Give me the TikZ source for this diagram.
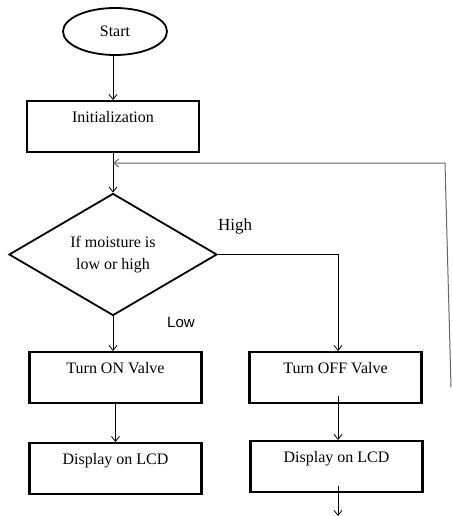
\documentclass[tikz,border=0pt]{standalone}
\usepackage{fontspec}
\setmainfont{Liberation Serif}
\newfontfamily\lsans{Liberation Sans}
\usetikzlibrary{shapes.geometric,arrows.meta}
\begin{document}
\begin{tikzpicture}[x=1pt,y=-1pt,
  every node/.style={font=\fontsize{16}{22}\selectfont},
  procbox/.style={draw,line width=2.2pt,rectangle,minimum width=172pt,inner xsep=0pt,inner ysep=5pt,text height=16pt,text depth=25pt,anchor=north},
  conn/.style={line width=0.8pt,-{Straight Barb[length=5pt,width=8pt]}},
  loopline/.style={line width=1pt,draw=black!60}
]
\useasboundingbox (0,0) rectangle (452,516);
\node[draw,ellipse,line width=1.8pt,minimum width=104pt,minimum height=47pt,inner sep=0pt] (start) at (115,31.5) {Start};
\node[procbox] (init) at (113,100) {Initialization};
\node[draw,diamond,line width=1.8pt,minimum width=208pt,minimum height=105pt,inner sep=0pt,align=center] (dec) at (113,254.5) {If moisture is\\low or high};
\node[procbox] (on) at (115.5,351) {Turn ON Valve};
\node[procbox] (off) at (335.5,351) {Turn OFF Valve};
\node[procbox] (don) at (115.5,442) {Display on LCD};
\node[procbox] (doff) at (336.5,440) {Display on LCD};
\node[font=\fontsize{17}{20}\selectfont] (high) at (235,226) {High};
\node[font=\lsans\fontsize{15}{18}\selectfont] (low) at (181,322) {Low};
\coordinate (lt) at (445,163);
\coordinate (lb) at (451,387);
\coordinate (endp) at (338,516);
\draw[conn] (start.south -| init.north) -- (init.north);
\draw[conn] (init.south) -- (dec.north);
\draw[loopline,-{Straight Barb[length=5pt,width=8pt]}] (lb) -- (lt) -- (lt -| init.south);
\draw[conn] (dec.east) -- (dec.east -| 338,0) -- (338,351);
\draw[conn] (dec.south) -- (dec.south |- on.north);
\draw[conn] (on.south) -- (don.north);
\draw[conn] (338,396) -- (338,440);
\draw[conn] (338,486) -- (endp);
\end{tikzpicture}
\end{document}
